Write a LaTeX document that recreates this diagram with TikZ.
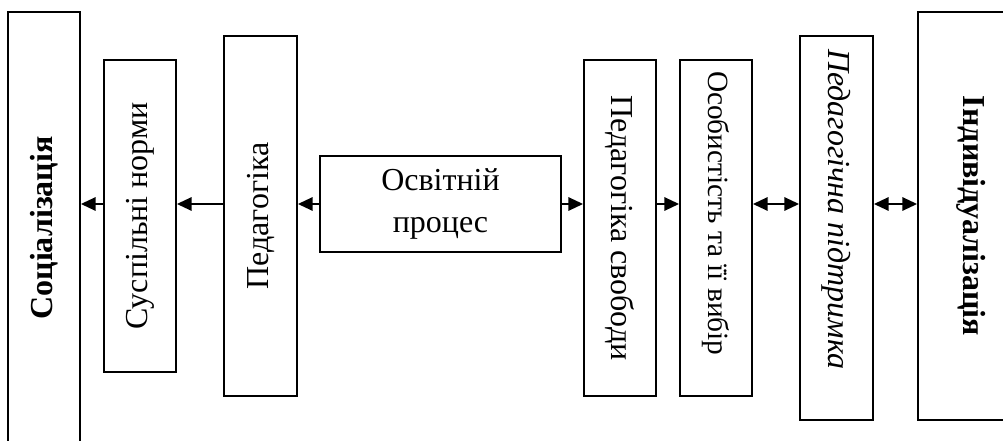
\documentclass[tikz,border=0pt]{standalone}
\usepackage{fontspec}
\setmainfont{Liberation Serif}
\usetikzlibrary{arrows.meta}

\begin{document}
\begin{tikzpicture}[x=0.75pt,y=-0.75pt]
\tikzstyle{block} = [rectangle, draw, line width=1.4pt, fill=white,
inner sep=0pt, align=center, font=\fontsize{24}{32}\selectfont]
\tikzstyle{line} = [draw, line width=1.4pt, -{Triangle[length=11pt,width=10pt]}];
\tikzstyle{line_both} = [draw, line width=1.4pt,
{Triangle[length=11pt,width=10pt]}-{Triangle[length=11pt,width=10pt]}];

\useasboundingbox (0,0) rectangle (1003,441);

% left part
\node [block, minimum width=54pt, minimum height=324pt] (social) at (44,228)
 {\rotatebox{90}{\bfseries Соціалізація}};
\node [block, minimum width=54pt, minimum height=234pt] (norms) at (140,216)
 {\rotatebox{90}{Суспільні норми}};
\node [block, minimum width=54.75pt, minimum height=270pt] (pedag) at (260.5,216)
 {\rotatebox{90}{Педагогіка}};
% middle
\node [block, minimum width=180.75pt, minimum height=72pt] (process) at (440.5,204)
 {Освітній\\процес};
% right part
\node [block, minimum width=54pt, minimum height=252pt] (freedom) at (620,228)
 {\rotatebox{-90}{Педагогіка свободи}};
\node [block, minimum width=54pt, minimum height=252pt, font=\fontsize{22}{30}\selectfont]
 (person) at (716,228) {\rotatebox{-90}{Особистість та її вибір\hspace{22pt}}};
\node [block, minimum width=54.75pt, minimum height=288pt] (support) at (836.5,228)
 {\rotatebox{-90}{\itshape Педагогічна підтримка\hspace{28pt}}};
\node [block, minimum width=79.5pt, minimum height=306pt] (individ) at (971,216)
 {\rotatebox{-90}{\bfseries Індивідуалізація}};

\path [line] (process.west) -- (process.west -| pedag.east);
\path [line] (pedag.west |- process) -- (norms.east |- process);
\path [line] (norms.west |- process) -- (social.east |- process);
\path [line] (process.east) -- (process.east -| freedom.west);
\path [line] (freedom.east |- process) -- (person.west |- process);
\path [line_both] (person.east |- process) -- (support.west |- process);
\path [line_both] (support.east |- process) -- (individ.west |- process);

\end{tikzpicture}
\end{document}
